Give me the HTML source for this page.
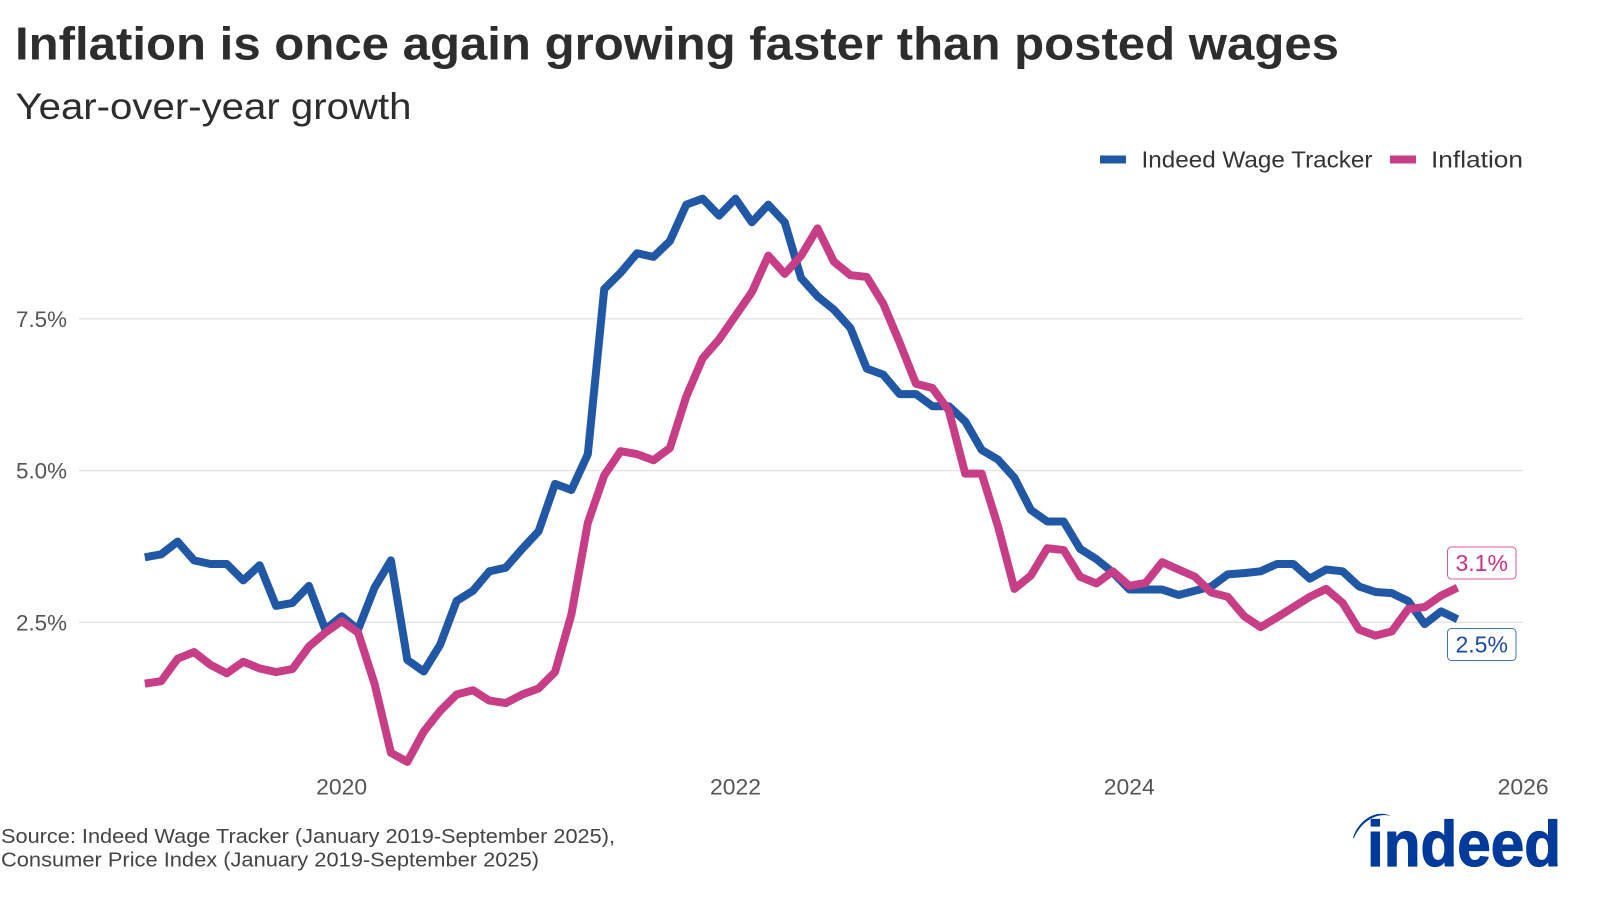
<!DOCTYPE html>
<html lang="en">
<head>
<meta charset="utf-8">
<title>Inflation is once again growing faster than posted wages</title>
<style>
html,body{margin:0;padding:0;background:#fff;width:1600px;height:914px;overflow:hidden}
svg{display:block;font-family:"Liberation Sans",sans-serif}
</style>
</head>
<body>
<svg id="chart" xmlns="http://www.w3.org/2000/svg" width="1600" height="914" viewBox="0 0 1600 914">
  <rect width="1600" height="914" fill="#fff"/>
  <text x="15" y="59.5" font-size="46" font-weight="700" fill="#2d2d2d" textLength="1324" lengthAdjust="spacingAndGlyphs">Inflation is once again growing faster than posted wages</text>
  <text x="15.5" y="119" font-size="37" fill="#2d2d2d" textLength="396" lengthAdjust="spacingAndGlyphs">Year-over-year growth</text>

  <g>
    <rect x="1100" y="155.5" width="26" height="8" fill="#2058a5"/>
    <text x="1141.5" y="167.5" font-size="23.5" fill="#333" textLength="231" lengthAdjust="spacingAndGlyphs">Indeed Wage Tracker</text>
    <rect x="1390" y="155.5" width="26" height="8" fill="#c73d86"/>
    <text x="1431" y="167.5" font-size="23.5" fill="#333" textLength="92" lengthAdjust="spacingAndGlyphs">Inflation</text>
  </g>

  <g id="grid"></g>
  <g id="yaxis"></g>
  <g id="xaxis"></g>
  <g id="series"></g>
  <g id="endlabels"></g>

  <text x="1" y="843" font-size="20.5" fill="#444" textLength="614" lengthAdjust="spacingAndGlyphs">Source: Indeed Wage Tracker (January 2019-September 2025),</text>
  <text x="1" y="866.5" font-size="20.5" fill="#444" textLength="538" lengthAdjust="spacingAndGlyphs">Consumer Price Index (January 2019-September 2025)</text>

  <g>
    <path d="M1353 838 C1357 823 1374 808 1391 816 C1376 812 1361 822 1354 838 Z" fill="#003a9b"/>
    <text x="1367" y="866" font-size="64" font-weight="700" fill="#003a9b" stroke="#003a9b" stroke-width="1.2" stroke-linejoin="round" textLength="194" lengthAdjust="spacingAndGlyphs">indeed</text>
  </g>
</svg>
<script>
var wageTrackerValues = [3.57,3.62,3.83,3.52,3.46,3.46,3.19,3.44,2.77,2.82,3.10,2.38,2.60,2.38,3.07,3.52,1.88,1.69,2.13,2.85,3.02,3.34,3.40,3.71,4.00,4.78,4.68,5.27,7.99,8.26,8.58,8.52,8.78,9.38,9.48,9.20,9.48,9.09,9.38,9.09,8.17,7.87,7.65,7.35,6.68,6.58,6.26,6.26,6.06,6.06,5.81,5.34,5.18,4.88,4.35,4.16,4.16,3.71,3.54,3.32,3.04,3.04,3.04,2.95,3.02,3.09,3.29,3.31,3.34,3.46,3.46,3.22,3.37,3.34,3.09,3.00,2.98,2.85,2.47,2.68,2.55];
var inflationValues = [1.49,1.53,1.90,2.01,1.80,1.66,1.85,1.74,1.68,1.73,2.10,2.33,2.52,2.33,1.49,0.35,0.20,0.70,1.04,1.31,1.38,1.21,1.17,1.31,1.41,1.68,2.63,4.14,4.92,5.32,5.27,5.17,5.37,6.22,6.85,7.16,7.55,7.94,8.54,8.24,8.54,8.99,8.44,8.22,8.19,7.75,7.11,6.43,6.36,5.99,4.95,4.95,4.08,3.05,3.27,3.72,3.69,3.25,3.14,3.34,3.10,3.15,3.49,3.37,3.25,2.99,2.92,2.60,2.42,2.58,2.75,2.92,3.05,2.82,2.38,2.28,2.35,2.72,2.75,2.94,3.07];
var yTicks = [2.5,5.0,7.5];
var yTickLabels = ["2.5%","5.0%","7.5%"];
var xTicks = [2020,2022,2024,2026];
var startYear = 2019;
var endLabels = ["3.1%","2.5%"];

var NS = 'http://www.w3.org/2000/svg';
function xScale(year){ return 144.8 + (year - startYear) * 196.9; }
function xIndex(i){ return xScale(startYear + i / 12); }
function yScale(v){ return 622.3 - (v - 2.5) * 60.7; }
function make(tag, parent){
  var el = document.createElementNS(NS, tag);
  parent.appendChild(el);
  return el;
}
function linePath(values){
  return values.map(function(v, i){
    return (i ? 'L' : 'M') + xIndex(i).toFixed(2) + ' ' + yScale(v).toFixed(2);
  }).join(' ');
}

var grid = document.getElementById('grid');
var yaxis = document.getElementById('yaxis');
yTicks.forEach(function(t, i){
  var g = make('line', grid);
  
  
  g.setAttribute('x1', 79); g.setAttribute('x2', 1523);
  g.setAttribute('y1', yScale(t)); g.setAttribute('y2', yScale(t));
  g.setAttribute('stroke', '#e3e3e3'); g.setAttribute('stroke-width', 1.4);
  var l = make('text', yaxis);
  
  
  l.setAttribute('x', 16); l.setAttribute('y', yScale(t) + 8);
  l.setAttribute('font-size', 22.5); l.setAttribute('fill', '#555');
  l.setAttribute('textLength', 51); l.setAttribute('lengthAdjust', 'spacingAndGlyphs');
  l.textContent = yTickLabels[i];
});

var xaxis = document.getElementById('xaxis');
xTicks.forEach(function(t){
  var l = make('text', xaxis);
  
  
  l.setAttribute('x', xScale(t) - 25.5); l.setAttribute('y', 794.5);
  l.setAttribute('font-size', 22.5); l.setAttribute('fill', '#555');
  l.setAttribute('textLength', 51); l.setAttribute('lengthAdjust', 'spacingAndGlyphs');
  l.textContent = t;
});

var series = document.getElementById('series');
var wageLine = make('path', series);


wageLine.setAttribute('d', linePath(wageTrackerValues));
wageLine.setAttribute('fill', 'none'); wageLine.setAttribute('stroke', '#2058a5');
wageLine.setAttribute('stroke-width', 8); wageLine.setAttribute('stroke-linejoin', 'round');

var inflLine = make('path', series);


inflLine.setAttribute('d', linePath(inflationValues));
inflLine.setAttribute('fill', 'none'); inflLine.setAttribute('stroke', '#c73d86');
inflLine.setAttribute('stroke-width', 8); inflLine.setAttribute('stroke-linejoin', 'round');

var endG = document.getElementById('endlabels');
var inflBox = make('rect', endG);


inflBox.setAttribute('x', 1447.5); inflBox.setAttribute('y', 547);
inflBox.setAttribute('width', 68.5); inflBox.setAttribute('height', 32); inflBox.setAttribute('rx', 4);
inflBox.setAttribute('fill', '#fff'); inflBox.setAttribute('stroke', '#d9589f'); inflBox.setAttribute('stroke-width', 1);
var inflText = make('text', endG);


inflText.setAttribute('x', 1481.7); inflText.setAttribute('y', 571);
inflText.setAttribute('text-anchor', 'middle'); inflText.setAttribute('font-size', 23); inflText.setAttribute('fill', '#cf2f86');
inflText.textContent = endLabels[0];

var wageBox = make('rect', endG);


wageBox.setAttribute('x', 1447.5); wageBox.setAttribute('y', 628.5);
wageBox.setAttribute('width', 68.5); wageBox.setAttribute('height', 32); wageBox.setAttribute('rx', 4);
wageBox.setAttribute('fill', '#fff'); wageBox.setAttribute('stroke', '#3d72bd'); wageBox.setAttribute('stroke-width', 1);
var wageText = make('text', endG);


wageText.setAttribute('x', 1481.7); wageText.setAttribute('y', 652.5);
wageText.setAttribute('text-anchor', 'middle'); wageText.setAttribute('font-size', 23); wageText.setAttribute('fill', '#1a49a8');
wageText.textContent = endLabels[1];
</script>
</body>
</html>
